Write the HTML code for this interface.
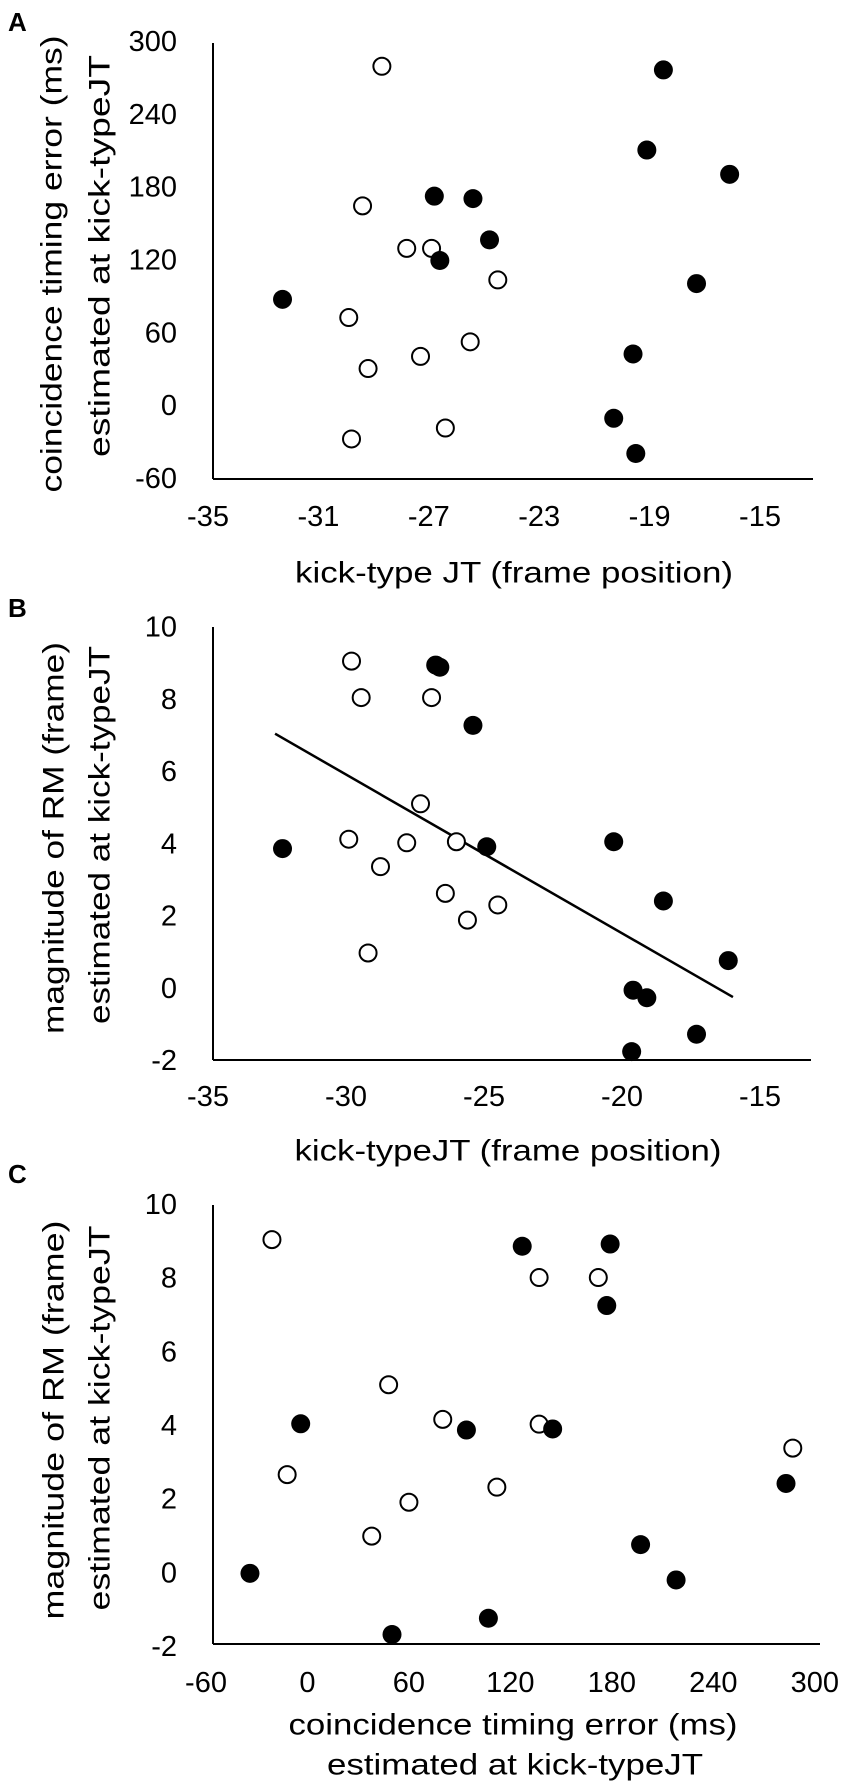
<!DOCTYPE html>
<html><head><meta charset="utf-8"><style>
html,body{margin:0;padding:0;background:#fff;}
svg{display:block;font-family:"Liberation Sans",Arial,sans-serif;}
</style></head><body>
<svg id="fig" width="851" height="1785" viewBox="0 0 851 1785">
<text x="8" y="31" font-size="26" font-weight="bold">A</text>
<text x="8" y="617" font-size="26" font-weight="bold">B</text>
<text x="8" y="1183" font-size="26" font-weight="bold">C</text>
</svg>
<script>
// Panel A data
const aOpenX = [-28.7,-29.4,-27.8,-26.9,-24.5,-29.9,-25.5,-27.3,-29.2,-29.8,-26.4];
const aOpenY = [280,165,130,130,104,73,53,41,31,-27,-18];
const aFillX = [-18.5,-19.1,-16.1,-26.8,-25.4,-24.8,-26.6,-32.3,-17.3,-19.6,-20.3,-19.5];
const aFillY = [277,211,191,173,171,137,120,88,101,43,-10,-39];
const aTicksX = [-35,-31,-27,-23,-19,-15];
const aTicksY = [-60,0,60,120,180,240,300];
// Panel B data
const bOpenX = [-29.8,-29.45,-26.9,-27.3,-29.9,-27.8,-26.0,-28.75,-26.4,-24.5,-25.6,-29.2];
const bOpenY = [9.07,8.06,8.06,5.12,4.14,4.04,4.07,3.38,2.64,2.32,1.90,0.99];
const bFillX = [-26.75,-26.6,-25.4,-32.3,-24.9,-20.3,-18.5,-16.15,-19.6,-19.1,-17.3,-19.65];
const bFillY = [8.96,8.9,7.29,3.88,3.93,4.07,2.43,0.78,-0.04,-0.25,-1.26,-1.74];
const bTrendX = [-32.57,-15.98];
const bTrendY = [7.06,-0.23];
const bTicksX = [-35,-30,-25,-20,-15];
const bTicksY = [-2,0,2,4,6,8,10];
// Panel C data
const cOpenX = [-21,137,172,48,80,137,287,-12,112,60,38];
const cOpenY = [9.06,8.03,8.03,5.12,4.18,4.05,3.40,2.68,2.34,1.93,1.01];
const cFillX = [127,179,177,-4,94,145,283,197,218,-34,107,50];
const cFillY = [8.88,8.94,7.27,4.06,3.89,3.92,2.44,0.78,-0.18,0.0,-1.22,-1.66];
const cTicksX = [-60,0,60,120,180,240,300];
const cTicksY = [-2,0,2,4,6,8,10];

const NS = 'http://www.w3.org/2000/svg';
const svg = document.getElementById('fig');
function mk(tag, attrs, parent){
  const e = document.createElementNS(NS, tag);
  for (const k in attrs) e.setAttribute(k, attrs[k]);
  (parent||svg).appendChild(e);
  return e;
}
function panel(p){
  const g = mk('g', {});
  
  
  const sx = v => p.x0 + (v - p.xmin) * p.xs;
  const sy = v => p.y0 - (v - p.ymin) * p.ys;
  const ya = mk('line', {x1:p.axX, y1:p.axTop, x2:p.axX, y2:p.axY, stroke:'#000','stroke-width':2}, g);
  
  
  const xa = mk('line', {x1:p.axX, y1:p.axY, x2:p.axRight, y2:p.axY, stroke:'#000','stroke-width':2}, g);
  
  
  p.ticksX.forEach(v => {
    const t = mk('text', {x:sx(v), y:p.xLabelY, 'font-size':29, 'text-anchor':'middle', 'dominant-baseline':'central'}, g);
    t.textContent = v;
    
    
  });
  p.ticksY.forEach(v => {
    const t = mk('text', {x:177, y:sy(v), 'font-size':29, 'text-anchor':'end', 'dominant-baseline':'central'}, g);
    t.textContent = v;
    
    
  });
  if (p.trendX){
    const l = mk('line', {x1:sx(p.trendX[0]), y1:sy(p.trendY[0]), x2:sx(p.trendX[1]), y2:sy(p.trendY[1]), stroke:'#000','stroke-width':2.5}, g);
    
    
  }
  p.openX.forEach((v,i) => {
    const c = mk('circle', {cx:sx(v), cy:sy(p.openY[i]), r:8.5, fill:'#fff', stroke:'#000','stroke-width':2}, g);
    
    
  });
  p.fillX.forEach((v,i) => {
    const c = mk('circle', {cx:sx(v), cy:sy(p.fillY[i]), r:9.5, fill:'#000'}, g);
    
    
  });
  p.xTitle.forEach((s,i) => {
    const t = mk('text', {x:p.xTitleX[i], y:p.xTitleY[i], 'font-size':30, 'text-anchor':'middle', 'dominant-baseline':'central', textLength:p.xTitleL[i], lengthAdjust:'spacingAndGlyphs'}, g);
    t.textContent = s;
    
    
  });
  p.yTitle.forEach((s,i) => {
    const cx = p.yTitleX[i], cy = p.yTitleY[i];
    const t = mk('text', {x:cx, y:cy, 'font-size':30, 'text-anchor':'middle', 'dominant-baseline':'central', textLength:p.yTitleL[i], lengthAdjust:'spacingAndGlyphs', transform:'rotate(-90 '+cx+' '+cy+')'}, g);
    t.textContent = s;
    
    
  });
}
panel({name:'panel-a', xmin:-35, x0:208, xs:27.6, ymin:-60, y0:479, ys:437/360,
  axX:213, axTop:43, axY:479, axRight:813, xLabelY:517,
  ticksX:aTicksX, ticksY:aTicksY, openX:aOpenX, openY:aOpenY, fillX:aFillX, fillY:aFillY,
  xTitle:['kick-type JT (frame position)'], xTitleX:[514], xTitleY:[573], xTitleL:[438],
  yTitle:['coincidence timing error (ms)','estimated at kick-typeJT'], yTitleX:[52,100], yTitleY:[264,256], yTitleL:[457,402]});
panel({name:'panel-b', xmin:-35, x0:208, xs:27.6, ymin:-2, y0:1061, ys:433.5/12,
  axX:213, axTop:627, axY:1060, axRight:811, xLabelY:1097,
  ticksX:bTicksX, ticksY:bTicksY, openX:bOpenX, openY:bOpenY, fillX:bFillX, fillY:bFillY,
  trendX:bTrendX, trendY:bTrendY,
  xTitle:['kick-typeJT (frame position)'], xTitleX:[508], xTitleY:[1151], xTitleL:[427],
  yTitle:['magnitude of RM (frame)','estimated at kick-typeJT'], yTitleX:[54,100], yTitleY:[838,835], yTitleL:[392,378]});
panel({name:'panel-c', xmin:-60, x0:206, xs:1.691, ymin:-2, y0:1647, ys:442/12,
  axX:213, axTop:1205, axY:1644, axRight:820, xLabelY:1683,
  ticksX:cTicksX, ticksY:cTicksY, openX:cOpenX, openY:cOpenY, fillX:cFillX, fillY:cFillY,
  xTitle:['coincidence timing error (ms)','estimated at kick-typeJT'], xTitleX:[513,515], xTitleY:[1725,1765], xTitleL:[449,376],
  yTitle:['magnitude of RM (frame)','estimated at kick-typeJT'], yTitleX:[54,100], yTitleY:[1420,1418], yTitleL:[399,385]});
</script>
</body></html>
